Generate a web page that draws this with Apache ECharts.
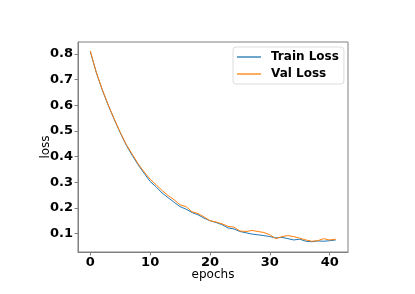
<!DOCTYPE html>
<html>
<head>
<meta charset="utf-8">
<script src="https://cdn.jsdelivr.net/npm/echarts@6/dist/echarts.min.js"></script>
<style>html,body{margin:0;padding:0;background:#fff}#c{width:415px;height:294px}</style>
</head>
<body>
<div id="c"></div>
<script>
const epochs = [0,1,2,3,4,5,6,7,8,9,10,11,12,13,14,15,16,17,18,19,20,21,22,23,24,25,26,27,28,29,30,31,32,33,34,35,36,37,38,39,40,41];
const trainLoss = [0.810,0.728,0.660,0.600,0.545,0.493,0.445,0.405,0.368,0.335,0.303,0.282,0.258,0.240,0.222,0.205,0.195,0.182,0.173,0.160,0.150,0.143,0.135,0.122,0.118,0.108,0.103,0.098,0.095,0.092,0.088,0.083,0.085,0.080,0.075,0.078,0.070,0.068,0.071,0.070,0.072,0.075];
const valLoss = [0.812,0.730,0.662,0.602,0.547,0.495,0.448,0.410,0.372,0.340,0.312,0.290,0.268,0.248,0.232,0.212,0.205,0.185,0.178,0.165,0.150,0.145,0.138,0.128,0.125,0.110,0.108,0.112,0.108,0.104,0.095,0.080,0.088,0.092,0.088,0.082,0.075,0.070,0.072,0.080,0.075,0.078];
const xTicks = [0,10,20,30,40];
const yTicks = [0.1,0.2,0.3,0.4,0.5,0.6,0.7,0.8];

const chart = echarts.init(document.getElementById('c'), null, {renderer:'canvas'});
const tickFont = {fontFamily:'DejaVu Sans', fontWeight:'bold', fontSize:13, color:'#000'};
chart.setOption({
  animation:false,
  grid:{left:78, right:67, top:42, bottom:42, show:true, borderColor:'#808080', borderWidth:1, backgroundColor:'transparent'},
  legend:{
    left:233, top:47, orient:'vertical',
    data:['Train Loss','Val Loss'],
    icon:'rect',
    itemWidth:24, itemHeight:1.3, itemGap:5,
    backgroundColor:'rgba(255,255,255,0.8)', borderColor:'#dcdcdc', borderWidth:1, borderRadius:3,
    padding:[4,5,4,4],
    textStyle:{fontFamily:'DejaVu Sans', fontWeight:'bold', fontSize:12, color:'#000', padding:[0,0,0,5], lineHeight:12}
  },
  xAxis:{
    type:'value', min:-2.05, max:43.05,
    name:'epochs', nameLocation:'middle', nameGap:17, nameMoveOverlap:false,
    nameTextStyle:{fontFamily:'DejaVu Sans', fontSize:12, color:'#000'},
    axisLine:{show:true, onZero:false, lineStyle:{color:'#808080'}},
    axisTick:{show:true, length:3.5, lineStyle:{color:'#808080'}, customValues:xTicks},
    axisLabel:Object.assign({customValues:xTicks, margin:4, formatter:v=>String(Math.round(v))}, tickFont),
    splitLine:{show:false}
  },
  yAxis:{
    type:'value', min:0.028, max:0.847,
    name:'loss', nameLocation:'middle', nameGap:26, nameRotate:90, nameMoveOverlap:false,
    nameTextStyle:{fontFamily:'DejaVu Sans', fontSize:12, color:'#000'},
    axisLine:{show:true, onZero:false, lineStyle:{color:'#808080'}},
    axisTick:{show:true, length:3.5, lineStyle:{color:'#808080'}, customValues:yTicks},
    axisLabel:Object.assign({customValues:yTicks, margin:5, formatter:v=>v.toFixed(1)}, tickFont),
    splitLine:{show:false}
  },
  series:[
    {name:'Train Loss', type:'line', data:epochs.map((e,i)=>[e,trainLoss[i]]), showSymbol:false, symbol:'none', lineStyle:{color:'#1f77b4', width:1}, itemStyle:{color:'#1f77b4'}},
    {name:'Val Loss', type:'line', data:epochs.map((e,i)=>[e,valLoss[i]]), showSymbol:false, symbol:'none', lineStyle:{color:'#ff7f0e', width:1}, itemStyle:{color:'#ff7f0e'}}
  ]
});
</script>
</body>
</html>
